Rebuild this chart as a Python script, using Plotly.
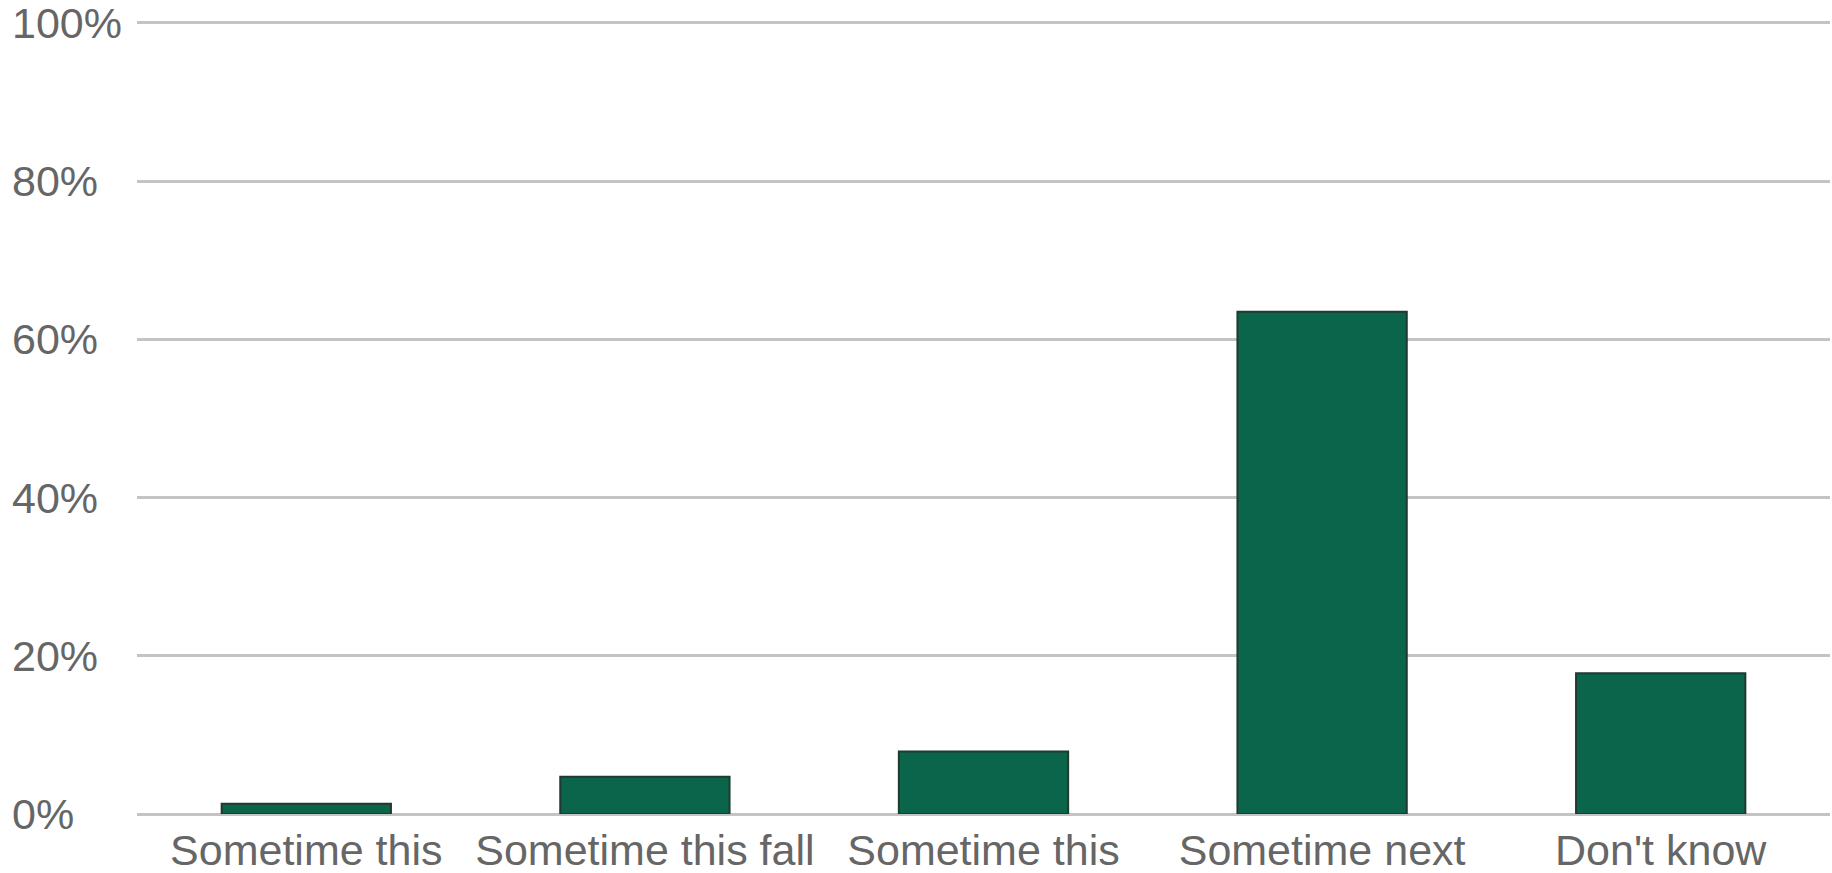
import plotly.graph_objects as go

categories = ["Sometime this", "Sometime this fall", "Sometime this", "Sometime next", "Don't know"]
values = [1.3, 4.7, 7.9, 63.5, 17.8]
y_ticks = [0, 20, 40, 60, 80, 100]
y_tick_labels = ["0%", "20%", "40%", "60%", "80%", "100%"]

positions = list(range(len(categories)))

fig = go.Figure()
fig.add_trace(go.Bar(
    x=positions,
    y=values,
    marker=dict(color="#0b654a", line=dict(color="#1f3a31", width=2)),
    width=0.5,
    hoverinfo="skip",
))

font_family = "Liberation Sans, Arial, sans-serif"
tick_color = "#666666"

for v, lab in zip(y_ticks, y_tick_labels):
    fig.add_annotation(
        xref="paper", yref="y", x=0, y=v, text=lab, showarrow=False,
        xanchor="left", yanchor="middle", xshift=-127,
        font=dict(family=font_family, size=43, color=tick_color),
    )

fig.update_layout(
    width=1832, height=873,
    margin=dict(l=137, r=2, t=21, b=59),
    paper_bgcolor="white", plot_bgcolor="white",
    showlegend=False,
    bargap=0.5,
)
fig.update_xaxes(
    tickmode="array", tickvals=positions, ticktext=categories,
    range=[-0.5, len(categories) - 0.5],
    showgrid=False, zeroline=False, showline=False, ticks="",
    automargin=False, ticklabelstandoff=7,
    tickfont=dict(family=font_family, size=43, color=tick_color),
)
fig.update_yaxes(
    range=[0, 100.25], tickvals=y_ticks, showticklabels=False,
    showgrid=True, gridcolor="#c4c4c4", gridwidth=3,
    zeroline=True, zerolinecolor="#c4c4c4", zerolinewidth=3,
    showline=False, ticks="", automargin=False,
)

fig.write_html(
    "out.html",
    config={"displayModeBar": False},
    post_script="document.body.style.margin='0';document.body.style.overflow='hidden';",
)
